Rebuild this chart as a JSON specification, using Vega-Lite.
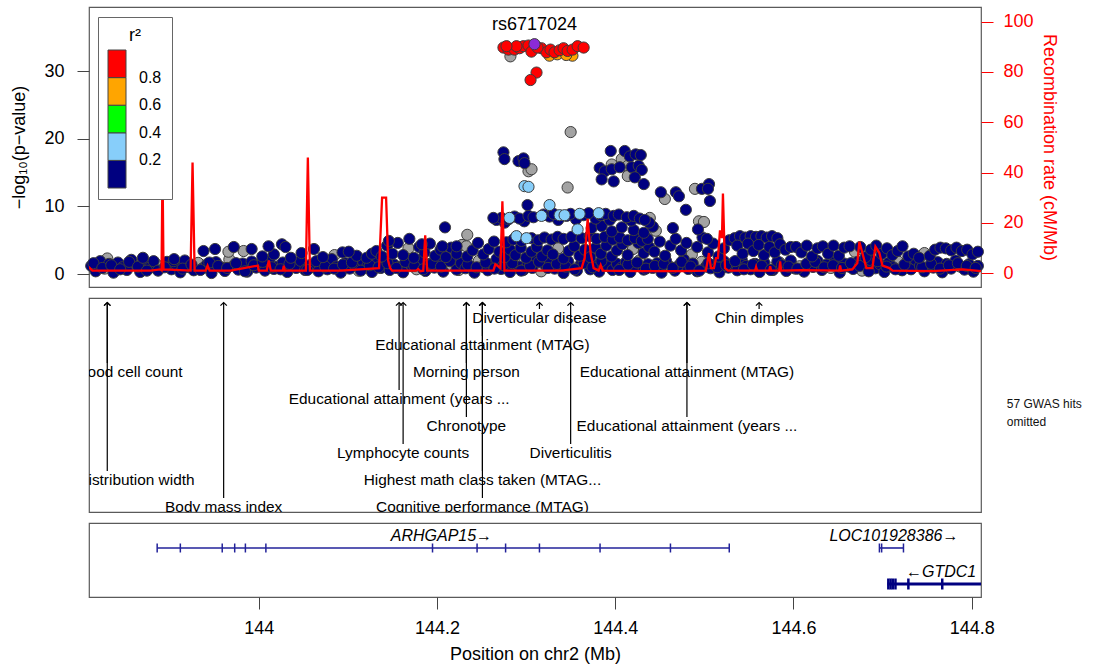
{
"$schema": "https://vega.github.io/schema/vega-lite/v6.json",
"padding": {"left": 10, "top": 6, "right": 5, "bottom": 0},
"spacing": 9,
"config": {
  "font": "Liberation Sans",
  "view": {"stroke": "#5a5a5a", "strokeWidth": 1.2},
  "axis": {"grid": false, "domain": false, "tickColor": "#444", "tickWidth": 1, "labelFontSize": 18, "titleFontSize": 18, "titleFontWeight": "normal", "labelColor": "#000", "titleColor": "#000", "labelFont": "Liberation Sans", "titleFont": "Liberation Sans"}
},
"datasets": {
"snps": [
{"p":143.812,"l":1.2,"r":0.1},{"p":143.817,"l":0.4,"r":0.1},{"p":143.822,"l":1.9,"r":0.1},{"p":143.827,"l":0.8},{"p":143.832,"l":1.5,"r":0.1},{"p":143.837,"l":0.2,"r":0.1},{"p":143.842,"l":1.7,"r":0.1},{"p":143.847,"l":1.0,"r":0.1},{"p":143.852,"l":0.6,"r":0.1},{"p":143.857,"l":2.1,"r":0.1},
{"p":143.862,"l":1.3},{"p":143.867,"l":0.3,"r":0.1},{"p":143.872,"l":1.6,"r":0.1},{"p":143.877,"l":0.9,"r":0.1},{"p":143.882,"l":1.9,"r":0.1},{"p":143.887,"l":0.5,"r":0.1},{"p":143.892,"l":1.1},{"p":143.897,"l":1.8,"r":0.1},{"p":143.902,"l":0.7,"r":0.1},{"p":143.907,"l":1.4,"r":0.1},
{"p":143.912,"l":0.25,"r":0.1},{"p":143.917,"l":2.0,"r":0.1},{"p":143.922,"l":1.0,"r":0.1},{"p":143.927,"l":0.55,"r":0.1},{"p":143.932,"l":1.65},{"p":143.937,"l":0.85,"r":0.1},{"p":143.942,"l":1.45,"r":0.1},{"p":143.947,"l":0.15,"r":0.1},{"p":143.952,"l":1.75,"r":0.1},{"p":143.957,"l":1.05,"r":0.1},
{"p":143.962,"l":0.45,"r":0.1},{"p":143.967,"l":2.15},{"p":143.972,"l":1.25,"r":0.1},{"p":143.977,"l":0.65,"r":0.1},{"p":143.982,"l":1.55,"r":0.1},{"p":143.987,"l":0.35,"r":0.1},{"p":143.992,"l":1.85,"r":0.1},{"p":143.997,"l":0.95,"r":0.1},{"p":144.002,"l":1.35},{"p":144.007,"l":0.5,"r":0.1},
{"p":144.012,"l":2.05,"r":0.1},{"p":144.017,"l":0.75,"r":0.1},{"p":144.022,"l":1.15,"r":0.1},{"p":144.027,"l":1.7,"r":0.1},{"p":144.032,"l":0.3,"r":0.1},{"p":144.037,"l":1.5},{"p":144.042,"l":0.9,"r":0.1},{"p":144.047,"l":1.95,"r":0.1},{"p":144.052,"l":0.6,"r":0.1},{"p":144.057,"l":1.3,"r":0.1},
{"p":144.062,"l":1.0,"r":0.1},{"p":144.067,"l":0.4,"r":0.1},{"p":144.072,"l":1.8},{"p":144.077,"l":0.7,"r":0.1},{"p":144.082,"l":2.2,"r":0.1},{"p":144.087,"l":1.1,"r":0.1},{"p":144.092,"l":0.2,"r":0.1},{"p":144.097,"l":1.6,"r":0.1},{"p":144.102,"l":0.8,"r":0.1},{"p":144.107,"l":1.4,"r":0.1},
{"p":144.112,"l":0.5},{"p":144.117,"l":1.9,"r":0.1},{"p":144.122,"l":1.2,"r":0.1},{"p":144.127,"l":0.3,"r":0.1},{"p":144.132,"l":1.7,"r":0.1},{"p":144.137,"l":0.9,"r":0.1},{"p":144.142,"l":2.3},{"p":144.147,"l":0.6,"r":0.1},{"p":144.152,"l":1.4,"r":0.1},{"p":144.157,"l":1.0,"r":0.1},
{"p":144.162,"l":0.25,"r":0.1},{"p":144.167,"l":1.85,"r":0.1},{"p":144.172,"l":1.15,"r":0.1},{"p":144.177,"l":0.7},{"p":144.182,"l":2.1,"r":0.1},{"p":144.187,"l":0.45,"r":0.1},{"p":144.192,"l":1.5,"r":0.1},{"p":144.197,"l":0.95,"r":0.1},{"p":144.202,"l":1.75,"r":0.1},{"p":144.207,"l":0.35,"r":0.1},
{"p":144.212,"l":1.3},{"p":144.217,"l":2.0,"r":0.1},{"p":144.222,"l":0.65,"r":0.1},{"p":144.227,"l":1.6,"r":0.1},{"p":144.232,"l":0.85,"r":0.1},{"p":144.237,"l":1.2,"r":0.1},{"p":144.242,"l":0.2,"r":0.1},{"p":144.247,"l":1.95},{"p":144.252,"l":1.05,"r":0.1},{"p":144.257,"l":0.55,"r":0.1},
{"p":144.262,"l":1.45,"r":0.1},{"p":144.267,"l":2.25,"r":0.1},{"p":144.272,"l":0.75,"r":0.1},{"p":144.277,"l":1.35,"r":0.1},{"p":144.282,"l":0.3,"r":0.1},{"p":144.287,"l":1.8},{"p":144.292,"l":1.1,"r":0.1},{"p":144.297,"l":0.6,"r":0.1},{"p":144.302,"l":1.55,"r":0.1},{"p":144.307,"l":0.9,"r":0.1},
{"p":144.312,"l":2.05,"r":0.1},{"p":144.317,"l":0.4},{"p":144.322,"l":1.25,"r":0.1},{"p":144.327,"l":1.7,"r":0.1},{"p":144.332,"l":0.8,"r":0.1},{"p":144.337,"l":1.4,"r":0.1},{"p":144.342,"l":0.15,"r":0.1},{"p":144.347,"l":1.9,"r":0.1},{"p":144.352,"l":1.0},{"p":144.357,"l":0.5,"r":0.1},
{"p":144.362,"l":1.65,"r":0.1},{"p":144.367,"l":2.2,"r":0.1},{"p":144.372,"l":0.7,"r":0.1},{"p":144.377,"l":1.3,"r":0.1},{"p":144.382,"l":0.35,"r":0.1},{"p":144.387,"l":1.85},{"p":144.392,"l":1.15,"r":0.1},{"p":144.397,"l":0.6,"r":0.1},{"p":144.402,"l":1.5,"r":0.1},{"p":144.407,"l":0.95,"r":0.1},
{"p":144.412,"l":1.75,"r":0.1},{"p":144.417,"l":0.3,"r":0.1},{"p":144.422,"l":1.2,"r":0.1},{"p":144.427,"l":2.0},{"p":144.432,"l":0.65,"r":0.1},{"p":144.437,"l":1.45,"r":0.1},{"p":144.442,"l":0.9,"r":0.1},{"p":144.447,"l":1.6,"r":0.1},{"p":144.452,"l":0.2,"r":0.1},{"p":144.457,"l":1.95,"r":0.1},
{"p":144.462,"l":1.05},{"p":144.467,"l":0.5,"r":0.1},{"p":144.472,"l":1.35,"r":0.1},{"p":144.477,"l":2.15,"r":0.1},{"p":144.482,"l":0.75,"r":0.1},{"p":144.487,"l":1.55,"r":0.1},{"p":144.492,"l":0.4,"r":0.1},{"p":144.497,"l":1.8},{"p":144.502,"l":1.1,"r":0.1},{"p":144.507,"l":0.85,"r":0.1},
{"p":144.512,"l":1.4,"r":0.1},{"p":144.517,"l":0.25,"r":0.1},{"p":144.522,"l":1.9,"r":0.1},{"p":144.527,"l":0.95,"r":0.1},{"p":144.532,"l":1.6},{"p":144.537,"l":0.55,"r":0.1},{"p":144.542,"l":2.1,"r":0.1},{"p":144.547,"l":1.2,"r":0.1},{"p":144.552,"l":0.7,"r":0.1},{"p":144.557,"l":1.5,"r":0.1},
{"p":144.562,"l":0.3,"r":0.1},{"p":144.567,"l":1.75,"r":0.1},{"p":144.572,"l":1.0},{"p":144.577,"l":0.6,"r":0.1},{"p":144.582,"l":1.85,"r":0.1},{"p":144.587,"l":1.3,"r":0.1},{"p":144.592,"l":0.45,"r":0.1},{"p":144.597,"l":2.0,"r":0.1},{"p":144.602,"l":0.8,"r":0.1},{"p":144.607,"l":1.15},
{"p":144.612,"l":0.35,"r":0.1},{"p":144.617,"l":1.7,"r":0.1},{"p":144.622,"l":1.05,"r":0.1},{"p":144.627,"l":1.95,"r":0.1},{"p":144.632,"l":0.6,"r":0.1},{"p":144.637,"l":1.4,"r":0.1},{"p":144.642,"l":0.9},{"p":144.647,"l":2.2,"r":0.1},{"p":144.652,"l":0.2,"r":0.1},{"p":144.657,"l":1.55,"r":0.1},
{"p":144.662,"l":1.1,"r":0.1},{"p":144.667,"l":0.75,"r":0.1},{"p":144.672,"l":1.8,"r":0.1},{"p":144.677,"l":0.5},{"p":144.682,"l":1.25,"r":0.1},{"p":144.687,"l":2.05,"r":0.1},{"p":144.692,"l":0.85,"r":0.1},{"p":144.697,"l":1.45,"r":0.1},{"p":144.702,"l":0.3,"r":0.1},{"p":144.707,"l":1.65,"r":0.1},
{"p":144.712,"l":1.0,"r":0.1},{"p":144.717,"l":1.9},{"p":144.722,"l":0.55,"r":0.1},{"p":144.727,"l":1.35,"r":0.1},{"p":144.732,"l":0.7,"r":0.1},{"p":144.737,"l":2.1,"r":0.1},{"p":144.742,"l":1.2,"r":0.1},{"p":144.747,"l":0.4,"r":0.1},{"p":144.752,"l":1.6},{"p":144.757,"l":0.95,"r":0.1},
{"p":144.762,"l":1.75,"r":0.1},{"p":144.767,"l":0.25,"r":0.1},{"p":144.772,"l":1.5,"r":0.1},{"p":144.777,"l":0.8,"r":0.1},{"p":144.782,"l":2.0,"r":0.1},{"p":144.787,"l":1.1},{"p":144.792,"l":0.65,"r":0.1},{"p":144.797,"l":1.45,"r":0.1},{"p":144.802,"l":0.35,"r":0.1},{"p":144.807,"l":1.2,"r":0.1},
{"p":143.8145,"l":1.6,"r":0.1},{"p":143.8245,"l":0.9,"r":0.1},{"p":143.8345,"l":1.3,"r":0.1},{"p":143.8445,"l":0.7,"r":0.1},{"p":143.8545,"l":1.8,"r":0.1},{"p":143.8645,"l":1.1,"r":0.1},{"p":143.8745,"l":0.5,"r":0.1},{"p":143.8845,"l":1.5},{"p":143.8945,"l":1.0,"r":0.1},{"p":143.9045,"l":1.9,"r":0.1},
{"p":143.9145,"l":0.8,"r":0.1},{"p":143.9245,"l":1.4,"r":0.1},{"p":143.9345,"l":0.6,"r":0.1},{"p":143.9445,"l":1.7,"r":0.1},{"p":143.9545,"l":1.2,"r":0.1},{"p":143.9645,"l":0.9,"r":0.1},{"p":143.9745,"l":1.6,"r":0.1},{"p":143.9845,"l":0.4,"r":0.1},{"p":143.9945,"l":1.3,"r":0.1},{"p":144.0045,"l":1.8,"r":0.1},
{"p":144.0145,"l":1.0,"r":0.1},{"p":144.0245,"l":0.7,"r":0.1},{"p":144.0345,"l":1.5,"r":0.1},{"p":144.0445,"l":1.2},{"p":144.0545,"l":0.6,"r":0.1},{"p":144.0645,"l":1.9,"r":0.1},{"p":144.0745,"l":1.1,"r":0.1},{"p":144.0845,"l":0.8,"r":0.1},{"p":144.0945,"l":1.4,"r":0.1},{"p":144.1045,"l":1.7,"r":0.1},
{"p":144.1145,"l":0.5,"r":0.1},{"p":144.1245,"l":1.3,"r":0.1},{"p":144.1345,"l":1.0,"r":0.1},{"p":144.1445,"l":1.6,"r":0.1},{"p":144.1545,"l":0.9,"r":0.1},{"p":144.1645,"l":1.8,"r":0.1},{"p":144.1745,"l":1.2,"r":0.1},{"p":144.1845,"l":0.7,"r":0.1},{"p":144.1945,"l":1.5,"r":0.1},{"p":144.2045,"l":1.1,"r":0.1},
{"p":144.2145,"l":1.9,"r":0.1},{"p":144.2245,"l":0.6},{"p":144.2345,"l":1.4,"r":0.1},{"p":144.2445,"l":1.0,"r":0.1},{"p":144.2545,"l":1.7,"r":0.1},{"p":144.2645,"l":0.8,"r":0.1},{"p":144.2745,"l":1.3,"r":0.1},{"p":144.2845,"l":1.6,"r":0.1},{"p":144.2945,"l":0.5,"r":0.1},{"p":144.3045,"l":1.2,"r":0.1},
{"p":144.3145,"l":1.8,"r":0.1},{"p":144.3245,"l":0.9,"r":0.1},{"p":144.3345,"l":1.5,"r":0.1},{"p":144.3445,"l":1.1,"r":0.1},{"p":144.3545,"l":0.7,"r":0.1},{"p":144.3645,"l":1.6,"r":0.1},{"p":144.3745,"l":1.0,"r":0.1},{"p":144.3845,"l":1.9,"r":0.1},{"p":144.3945,"l":1.3},{"p":144.4045,"l":0.6,"r":0.1},
{"p":144.4145,"l":1.4,"r":0.1},{"p":144.4245,"l":1.7,"r":0.1},{"p":144.4345,"l":0.8,"r":0.1},{"p":144.4445,"l":1.2,"r":0.1},{"p":144.4545,"l":1.5,"r":0.1},{"p":144.4645,"l":0.9,"r":0.1},{"p":144.4745,"l":1.8,"r":0.1},{"p":144.4845,"l":1.1,"r":0.1},{"p":144.4945,"l":0.5,"r":0.1},{"p":144.5045,"l":1.6,"r":0.1},
{"p":144.5145,"l":1.0,"r":0.1},{"p":144.5245,"l":1.3,"r":0.1},{"p":144.5345,"l":1.9,"r":0.1},{"p":144.5445,"l":0.7,"r":0.1},{"p":144.5545,"l":1.4,"r":0.1},{"p":144.5645,"l":1.2,"r":0.1},{"p":144.5745,"l":0.6,"r":0.1},{"p":144.5845,"l":1.7},{"p":144.5945,"l":1.1,"r":0.1},{"p":144.6045,"l":0.8,"r":0.1},
{"p":144.6145,"l":1.5,"r":0.1},{"p":144.6245,"l":1.8,"r":0.1},{"p":144.6345,"l":1.0,"r":0.1},{"p":144.6445,"l":1.3,"r":0.1},{"p":144.6545,"l":0.9,"r":0.1},{"p":144.6645,"l":1.6,"r":0.1},{"p":144.6745,"l":1.2,"r":0.1},{"p":144.6845,"l":0.4,"r":0.1},{"p":144.6945,"l":1.9,"r":0.1},{"p":144.7045,"l":1.1,"r":0.1},
{"p":144.7145,"l":0.7,"r":0.1},{"p":144.7245,"l":1.4,"r":0.1},{"p":144.7345,"l":1.7},{"p":144.7445,"l":1.0,"r":0.1},{"p":144.7545,"l":1.5,"r":0.1},{"p":144.7645,"l":0.8,"r":0.1},{"p":144.7745,"l":1.3,"r":0.1},{"p":144.7845,"l":1.6,"r":0.1},{"p":144.7945,"l":1.2,"r":0.1},{"p":144.8045,"l":0.9,"r":0.1},
{"p":143.83,"l":2.3},{"p":143.87,"l":2.4,"r":0.1},{"p":143.905,"l":2.2,"r":0.1},
{"p":144.004,"l":2.6,"r":0.1},{"p":144.017,"l":2.9,"r":0.1},{"p":144.036,"l":2.4,"r":0.1},{"p":144.048,"l":3.1,"r":0.1},{"p":144.072,"l":2.5,"r":0.1},{"p":144.085,"l":2.8},{"p":144.094,"l":3.2,"r":0.1},{"p":144.11,"l":2.7,"r":0.1},{"p":144.121,"l":2.4,"r":0.1},
{"p":143.938,"l":3.4,"r":0.1},{"p":143.951,"l":3.7,"r":0.1},{"p":143.966,"l":3.3},{"p":143.972,"l":4.0,"r":0.1},{"p":143.983,"l":3.4},{"p":143.992,"l":3.7,"r":0.1},{"p":144.011,"l":4.1,"r":0.1},{"p":144.026,"l":4.4,"r":0.1},{"p":144.03,"l":4.0,"r":0.1},{"p":144.062,"l":3.7,"r":0.1},{"p":144.101,"l":3.3,"r":0.1},{"p":144.127,"l":3.0,"r":0.1},
{"p":144.132,"l":3.4,"r":0.1},{"p":144.138,"l":2.6,"r":0.1},{"p":144.144,"l":4.2,"r":0.1},{"p":144.15,"l":3.0,"r":0.1},{"p":144.156,"l":4.6,"r":0.1},{"p":144.162,"l":2.8,"r":0.1},{"p":144.168,"l":3.8},{"p":144.174,"l":2.4,"r":0.1},{"p":144.18,"l":4.0,"r":0.1},{"p":144.186,"l":3.2,"r":0.1},{"p":144.192,"l":4.5,"r":0.1},{"p":144.198,"l":2.7,"r":0.1},{"p":144.204,"l":3.6,"r":0.1},{"p":144.21,"l":2.5,"r":0.1},{"p":144.216,"l":3.9,"r":0.1},{"p":144.222,"l":3.0,"r":0.1},{"p":144.228,"l":4.3},{"p":144.234,"l":2.6,"r":0.1},{"p":144.24,"l":3.5,"r":0.1},{"p":144.246,"l":4.6,"r":0.1},{"p":144.252,"l":2.9,"r":0.1},{"p":144.258,"l":3.7,"r":0.1},{"p":144.264,"l":4.8,"r":0.1},{"p":144.27,"l":3.3,"r":0.1},
{"p":144.146,"l":4.9,"r":0.1},{"p":144.169,"l":5.2,"r":0.1},{"p":144.183,"l":4.4,"r":0.1},{"p":144.206,"l":4.1,"r":0.1},{"p":144.222,"l":4.1,"r":0.1},{"p":144.233,"l":4.1},{"p":144.209,"l":6.9,"r":0.1},{"p":144.234,"l":5.8},
{"p":144.276,"l":2.5,"r":0.1},{"p":144.282,"l":3.6,"r":0.1},{"p":144.288,"l":2.8,"r":0.1},{"p":144.294,"l":3.9,"r":0.1},{"p":144.3,"l":2.4,"r":0.1},{"p":144.306,"l":3.3,"r":0.1},{"p":144.312,"l":4.0,"r":0.1},{"p":144.318,"l":2.6,"r":0.1},{"p":144.324,"l":3.5,"r":0.1},{"p":144.33,"l":2.9,"r":0.1},{"p":144.336,"l":3.8},{"p":144.342,"l":2.3,"r":0.1},{"p":144.348,"l":3.4,"r":0.1},{"p":144.354,"l":4.1,"r":0.1},{"p":144.36,"l":2.7,"r":0.1},{"p":144.366,"l":3.6,"r":0.1},{"p":144.372,"l":2.5,"r":0.1},{"p":144.378,"l":3.9,"r":0.1},{"p":144.384,"l":3.0,"r":0.1},{"p":144.39,"l":4.2,"r":0.1},{"p":144.396,"l":2.6,"r":0.1},{"p":144.402,"l":3.5,"r":0.1},{"p":144.408,"l":4.4,"r":0.1},{"p":144.414,"l":2.8,"r":0.1},{"p":144.42,"l":3.7},{"p":144.426,"l":4.6,"r":0.1},{"p":144.432,"l":3.1,"r":0.1},{"p":144.438,"l":4.0,"r":0.1},
{"p":144.444,"l":3.3,"r":0.1},{"p":144.45,"l":4.8,"r":0.1},{"p":144.456,"l":2.7,"r":0.1},{"p":144.462,"l":4.2,"r":0.1},{"p":144.468,"l":5.2,"r":0.1},{"p":144.474,"l":3.5,"r":0.1},{"p":144.48,"l":4.6,"r":0.1},{"p":144.486,"l":2.9},{"p":144.492,"l":4.0,"r":0.1},{"p":144.498,"l":5.4,"r":0.1},{"p":144.504,"l":3.2,"r":0.1},{"p":144.51,"l":4.5,"r":0.1},{"p":144.516,"l":2.6,"r":0.1},{"p":144.522,"l":3.8,"r":0.1},{"p":144.528,"l":5.0,"r":0.1},
{"p":144.534,"l":5.3,"r":0.1},{"p":144.54,"l":5.6,"r":0.1},{"p":144.546,"l":5.4,"r":0.1},{"p":144.552,"l":5.6,"r":0.1},{"p":144.558,"l":5.5,"r":0.1},{"p":144.564,"l":5.6,"r":0.1},{"p":144.57,"l":5.4,"r":0.1},{"p":144.576,"l":5.6,"r":0.1},{"p":144.582,"l":5.3,"r":0.1},
{"p":144.537,"l":4.2,"r":0.1},{"p":144.543,"l":3.0,"r":0.1},{"p":144.549,"l":4.5,"r":0.1},{"p":144.555,"l":3.4,"r":0.1},{"p":144.561,"l":4.3,"r":0.1},{"p":144.567,"l":2.8,"r":0.1},{"p":144.573,"l":4.0,"r":0.1},{"p":144.579,"l":3.2,"r":0.1},{"p":144.585,"l":4.4,"r":0.1},{"p":144.591,"l":3.6,"r":0.1},{"p":144.597,"l":4.0,"r":0.1},
{"p":144.603,"l":4.0,"r":0.1},{"p":144.609,"l":3.2,"r":0.1},{"p":144.615,"l":4.2,"r":0.1},{"p":144.621,"l":2.6,"r":0.1},{"p":144.627,"l":3.8,"r":0.1},{"p":144.633,"l":4.1,"r":0.1},{"p":144.639,"l":3.0,"r":0.1},{"p":144.645,"l":4.2,"r":0.1},{"p":144.651,"l":2.7,"r":0.1},{"p":144.657,"l":3.9,"r":0.1},{"p":144.663,"l":4.1,"r":0.1},{"p":144.669,"l":3.3},{"p":144.675,"l":4.0,"r":0.1},{"p":144.681,"l":2.5,"r":0.1},{"p":144.687,"l":3.6,"r":0.1},{"p":144.693,"l":4.2,"r":0.1},{"p":144.699,"l":3.0,"r":0.1},{"p":144.705,"l":3.8,"r":0.1},{"p":144.711,"l":2.8,"r":0.1},{"p":144.717,"l":3.4,"r":0.1},{"p":144.7224,"l":4.1,"r":0.1},{"p":144.729,"l":2.6,"r":0.1},{"p":144.735,"l":3.0,"r":0.1},{"p":144.741,"l":2.4,"r":0.1},{"p":144.747,"l":3.1},{"p":144.753,"l":2.7,"r":0.1},{"p":144.759,"l":3.6,"r":0.1},{"p":144.765,"l":3.9,"r":0.1},{"p":144.771,"l":3.8,"r":0.1},{"p":144.777,"l":3.5,"r":0.1},{"p":144.783,"l":3.9,"r":0.1},{"p":144.789,"l":3.4,"r":0.1},{"p":144.795,"l":3.6,"r":0.1},{"p":144.801,"l":2.9,"r":0.1},{"p":144.807,"l":3.3,"r":0.1},
{"p":144.2779,"l":4.7,"r":0.1},{"p":144.2858,"l":5.1,"r":0.1},{"p":144.2948,"l":4.9,"r":0.1},{"p":144.3061,"l":5.3,"r":0.1},{"p":144.314,"l":5.0,"r":0.1},{"p":144.3207,"l":5.4,"r":0.1},{"p":144.3286,"l":5.1,"r":0.1},{"p":144.3353,"l":5.5,"r":0.1},{"p":144.342,"l":5.2,"r":0.1},{"p":144.351,"l":5.5,"r":0.1},{"p":144.3623,"l":5.3,"r":0.1},{"p":144.3713,"l":5.6,"r":0.1},{"p":144.3792,"l":5.2,"r":0.1},{"p":144.3882,"l":5.5,"r":0.1},{"p":144.3972,"l":5.1,"r":0.1},{"p":144.4051,"l":5.4,"r":0.1},{"p":144.4141,"l":5.0,"r":0.1},{"p":144.422,"l":5.3,"r":0.1},{"p":144.4298,"l":4.9,"r":0.1},{"p":144.4366,"l":5.2,"r":0.1},
{"p":144.3736,"l":6.8,"r":0.1},{"p":144.3848,"l":7.1,"r":0.1},{"p":144.3961,"l":6.3,"r":0.1},{"p":144.4073,"l":6.9,"r":0.1},{"p":144.4208,"l":6.5,"r":0.1},{"p":144.4321,"l":6.1,"r":0.1},{"p":144.4422,"l":7.0,"r":0.1},
{"p":144.276,"l":7.6,"r":0.1},{"p":144.298,"l":7.8,"r":0.1},{"p":144.336,"l":8.0,"r":0.1},{"p":144.356,"l":8.1,"r":0.1},{"p":144.378,"l":8.2,"r":0.1},{"p":144.394,"l":8.0,"r":0.1},{"p":144.418,"l":7.9,"r":0.1},{"p":144.438,"l":7.6,"r":0.1},
{"p":144.2667,"l":8.0,"r":0.1},{"p":144.2723,"l":8.3,"r":0.1},{"p":144.2802,"l":8.1,"r":0.1},{"p":144.287,"l":8.5,"r":0.1},{"p":144.2926,"l":8.2,"r":0.1},{"p":144.3027,"l":8.6,"r":0.1},{"p":144.3083,"l":8.4,"r":0.1},{"p":144.3196,"l":8.8,"r":0.1},{"p":144.3263,"l":8.5,"r":0.1},{"p":144.3308,"l":8.9,"r":0.1},{"p":144.3454,"l":8.6,"r":0.1},{"p":144.3499,"l":8.9,"r":0.1},{"p":144.3645,"l":8.7,"r":0.1},{"p":144.3702,"l":9.0,"r":0.1},{"p":144.3837,"l":8.7,"r":0.1},{"p":144.3893,"l":8.9,"r":0.1},{"p":144.3983,"l":8.6,"r":0.1},{"p":144.404,"l":8.8,"r":0.1},{"p":144.413,"l":8.4,"r":0.1},{"p":144.4208,"l":8.6,"r":0.1},{"p":144.4276,"l":8.2,"r":0.1},{"p":144.4332,"l":8.0,"r":0.1},
{"p":144.2746,"l":18.0,"r":0.1},{"p":144.2757,"l":17.0,"r":0.1},{"p":144.2915,"l":16.7,"r":0.1},{"p":144.2971,"l":17.1,"r":0.1},{"p":144.2982,"l":16.4,"r":0.1},{"p":144.395,"l":18.2,"r":0.1},{"p":144.4107,"l":18.2,"r":0.1},{"p":144.4164,"l":17.4,"r":0.1},{"p":144.423,"l":17.7,"r":0.1},{"p":144.4287,"l":17.6,"r":0.1},{"p":144.3826,"l":15.7,"r":0.1},{"p":144.3882,"l":15.2,"r":0.1},{"p":144.3961,"l":15.5,"r":0.1},{"p":144.4051,"l":15.8,"r":0.1},{"p":144.4186,"l":15.8,"r":0.1},{"p":144.4264,"l":16.0,"r":0.1},{"p":144.4298,"l":15.4,"r":0.1},{"p":144.3848,"l":14.0,"r":0.1},{"p":144.3983,"l":13.7,"r":0.1},{"p":144.422,"l":14.3,"r":0.1},{"p":144.4321,"l":13.3,"r":0.1},{"p":144.4512,"l":12.1,"r":0.1},{"p":144.4681,"l":12.1,"r":0.1},{"p":144.4715,"l":11.5,"r":0.1},{"p":144.4973,"l":12.6,"r":0.1},{"p":144.5053,"l":13.3,"r":0.1},{"p":144.5041,"l":12.6,"r":0.1},{"p":144.5063,"l":10.8,"r":0.1},{"p":144.4793,"l":9.5,"r":0.1},{"p":144.4647,"l":6.8,"r":0.1},{"p":144.4929,"l":6.6,"r":0.1},{"p":144.503,"l":5.2,"r":0.1},{"p":144.2633,"l":8.3,"r":0.1},{"p":144.3016,"l":10.2,"r":0.1},
{"p":144.3027,"l":15.2},{"p":144.3061,"l":15.5},{"p":144.3466,"l":12.8},{"p":144.35,"l":21.0},{"p":144.3961,"l":16.2},{"p":144.4073,"l":17.0},{"p":144.4141,"l":16.0},{"p":144.4141,"l":14.5},{"p":144.4557,"l":11.1},{"p":144.4895,"l":12.6},{"p":144.4388,"l":8.3},{"p":144.4456,"l":6.4},{"p":144.494,"l":7.8},{"p":144.4996,"l":7.7},{"p":144.2824,"l":32.2},
{"p":144.2982,"l":13.0,"r":0.3},{"p":144.3027,"l":12.9,"r":0.3},{"p":144.2813,"l":8.3,"r":0.3},{"p":144.3263,"l":10.2,"r":0.3},{"p":144.3173,"l":8.6,"r":0.3},{"p":144.3376,"l":8.7,"r":0.3},{"p":144.3432,"l":8.7,"r":0.3},{"p":144.3601,"l":8.9,"r":0.3},{"p":144.3815,"l":9.0,"r":0.3},{"p":144.3578,"l":6.6,"r":0.3},{"p":144.2892,"l":5.6,"r":0.3},{"p":144.3004,"l":5.3,"r":0.3},
{"p":144.3263,"l":32.3,"r":0.7},{"p":144.335,"l":32.5,"r":0.7},{"p":144.352,"l":32.3,"r":0.7},{"p":144.345,"l":32.4,"r":0.7},
{"p":144.2746,"l":33.5,"r":0.9},{"p":144.2802,"l":33.2,"r":0.9},{"p":144.287,"l":33.2,"r":0.9},{"p":144.2926,"l":33.4,"r":0.9},{"p":144.297,"l":33.7,"r":0.9},{"p":144.3027,"l":33.8,"r":0.9},{"p":144.306,"l":32.9,"r":0.9},{"p":144.3173,"l":33.4,"r":0.9},{"p":144.3229,"l":32.8,"r":0.9},{"p":144.3274,"l":33.2,"r":0.9},{"p":144.3319,"l":32.8,"r":0.9},{"p":144.3376,"l":33.1,"r":0.9},{"p":144.342,"l":33.4,"r":0.9},{"p":144.3466,"l":33.0,"r":0.9},{"p":144.3522,"l":33.2,"r":0.9},{"p":144.3578,"l":33.7,"r":0.9},{"p":144.3646,"l":33.5,"r":0.9},{"p":144.3128,"l":33.5,"r":0.9},{"p":144.2892,"l":33.7,"r":0.9},{"p":144.278,"l":33.7,"r":0.9},{"p":144.3117,"l":29.8,"r":0.9},{"p":144.305,"l":28.7,"r":0.9}
],
"lead": [{"p":144.3094,"l":34.0,"name":"rs6717024"}],
"recomb": [
{"p":143.809,"rr":2.5},{"p":143.8132,"rr":1.0},{"p":143.8785,"rr":1.0},{"p":143.8897,"rr":1.5},{"p":143.8909,"rr":1.2},{"p":143.892,"rr":42},{"p":143.8931,"rr":1.5},{"p":143.9235,"rr":1.0},{"p":143.9257,"rr":44},{"p":143.928,"rr":1.0},{"p":143.9404,"rr":1.0},{"p":143.9426,"rr":3.0},{"p":143.9449,"rr":1.0},{"p":143.9685,"rr":1.0},{"p":143.9989,"rr":3.0},{"p":144.0,"rr":1.0},{"p":144.009,"rr":1.0},{"p":144.0113,"rr":5.0},{"p":144.0135,"rr":1.0},{"p":144.027,"rr":1.0},{"p":144.0281,"rr":3.0},{"p":144.0293,"rr":1.0},{"p":144.0473,"rr":1.0},{"p":144.0529,"rr":1.0},{"p":144.0551,"rr":46},{"p":144.0574,"rr":1.0},{"p":144.0923,"rr":1.0},{"p":144.135,"rr":2.0},{"p":144.1384,"rr":30},{"p":144.1429,"rr":30},{"p":144.1452,"rr":5.0},{"p":144.1474,"rr":2.0},{"p":144.1497,"rr":1.0},{"p":144.1767,"rr":1.0},{"p":144.1789,"rr":1.6},{"p":144.1812,"rr":0.8},{"p":144.1846,"rr":1.0},{"p":144.1868,"rr":15},{"p":144.189,"rr":1.0},{"p":144.2273,"rr":1.0},{"p":144.2633,"rr":1.0},{"p":144.2655,"rr":3.5},{"p":144.2678,"rr":3.0},{"p":144.2712,"rr":2.0},{"p":144.2734,"rr":28.6},{"p":144.2757,"rr":1.0},{"p":144.3061,"rr":1.0},{"p":144.3398,"rr":1.0},{"p":144.3623,"rr":2.0},{"p":144.3657,"rr":6.0},{"p":144.3691,"rr":21.6},{"p":144.3724,"rr":8.0},{"p":144.3758,"rr":2.0},{"p":144.3814,"rr":1.0},{"p":144.3837,"rr":3.2},{"p":144.3859,"rr":1.0},{"p":144.4298,"rr":0.8},{"p":144.4748,"rr":0.8},{"p":144.5018,"rr":1.0},{"p":144.5052,"rr":8.0},{"p":144.5074,"rr":2.0},{"p":144.5108,"rr":2.0},{"p":144.5131,"rr":6.0},{"p":144.5153,"rr":6.0},{"p":144.5176,"rr":17},{"p":144.5198,"rr":14},{"p":144.5209,"rr":31.7},{"p":144.5232,"rr":2.0},{"p":144.5266,"rr":1.0},{"p":144.557,"rr":1.0},{"p":144.5581,"rr":2.4},{"p":144.5592,"rr":1.0},{"p":144.5728,"rr":1.0},{"p":144.5739,"rr":2.7},{"p":144.575,"rr":1.0},{"p":144.584,"rr":1.0},{"p":144.5851,"rr":4.7},{"p":144.5862,"rr":1.0},{"p":144.6099,"rr":1.2},{"p":144.6513,"rr":1.0},{"p":144.6524,"rr":3.1},{"p":144.6535,"rr":1.0},{"p":144.6661,"rr":1.5},{"p":144.6717,"rr":4.0},{"p":144.674,"rr":12.5},{"p":144.6774,"rr":8.0},{"p":144.6819,"rr":2.0},{"p":144.6886,"rr":2.0},{"p":144.692,"rr":10.6},{"p":144.6965,"rr":8.0},{"p":144.6999,"rr":3.0},{"p":144.7078,"rr":2.0},{"p":144.7111,"rr":1.0},{"p":144.7561,"rr":0.8},{"p":144.7899,"rr":1.5},{"p":144.8113,"rr":0.8}
],
"gwas": [
{"pos":143.830,"trait":"White blood cell count","row":3},
{"pos":143.830,"trait":"Red cell distribution width","row":7},
{"pos":143.9606,"trait":"Body mass index","row":8},
{"pos":144.1575,"trait":"Educational attainment (years ...","row":4},
{"pos":144.162,"trait":"Lymphocyte counts","row":6},
{"pos":144.233,"trait":"Morning person","row":3},
{"pos":144.233,"trait":"Chronotype","row":5},
{"pos":144.251,"trait":"Educational attainment (MTAG)","row":2},
{"pos":144.251,"trait":"Highest math class taken (MTAG...","row":7},
{"pos":144.251,"trait":"Cognitive performance (MTAG)","row":8},
{"pos":144.315,"trait":"Diverticular disease","row":1},
{"pos":144.350,"trait":"Diverticulitis","row":6},
{"pos":144.4805,"trait":"Educational attainment (MTAG)","row":3},
{"pos":144.4805,"trait":"Educational attainment (years ...","row":5},
{"pos":144.5615,"trait":"Chin dimples","row":1}
],
"note": [{"pos":144.8395,"row":4.2}],
"genes": [
{"gene":"ARHGAP15→","start":143.886,"end":144.528,"mid":144.205,"track":1},
{"gene":"LOC101928386→","start":144.6965,"end":144.7235,"mid":144.7128,"track":1},
{"gene":"←GTDC1","start":144.7055,"end":144.825,"mid":144.7657,"track":2}
],
"exons": [
{"pos":143.886,"track":1},{"pos":143.912,"track":1},{"pos":143.959,"track":1},{"pos":143.973,"track":1},{"pos":143.985,"track":1},{"pos":144.008,"track":1},{"pos":144.195,"track":1},{"pos":144.245,"track":1},{"pos":144.277,"track":1},{"pos":144.315,"track":1},{"pos":144.383,"track":1},{"pos":144.462,"track":1},{"pos":144.528,"track":1},
{"pos":144.6965,"track":1},{"pos":144.699,"track":1},{"pos":144.7235,"track":1},
{"pos":144.7065,"track":2},{"pos":144.709,"track":2},{"pos":144.7115,"track":2},{"pos":144.7145,"track":2},{"pos":144.729,"track":2},{"pos":144.767,"track":2}
]
},
"vconcat": [
{
  "width": 892, "height": 280,
  "layer": [
    {"layer": [
      {"data": {"name": "snps"}, "transform": [{"filter": "datum.r == null"}],
       "mark": {"type": "point", "shape": "circle", "filled": true, "size": 125, "fill": "#A3A3A3", "stroke": "#3c3c3c", "strokeWidth": 1, "opacity": 1},
       "encoding": {
         "x": {"field": "p", "type": "quantitative", "scale": {"domain": [143.8095, 144.8105], "nice": false, "zero": false}, "axis": null},
         "y": {"field": "l", "type": "quantitative", "scale": {"domain": [-1.92, 39.5], "nice": false, "zero": false},
               "axis": {"values": [0, 10, 20, 30], "title": "−log₁₀(p−value)", "tickSize": 12, "labelPadding": 13, "titlePadding": 15}}
       }},
      {"data": {"name": "snps"}, "transform": [{"filter": "datum.r != null"}],
       "mark": {"type": "point", "shape": "circle", "filled": true, "size": 125, "stroke": "#3c3c3c", "strokeWidth": 1, "opacity": 1},
       "encoding": {
         "x": {"field": "p", "type": "quantitative", "axis": null},
         "y": {"field": "l", "type": "quantitative", "axis": {"values": [0, 10, 20, 30], "title": "−log₁₀(p−value)", "tickSize": 12, "labelPadding": 13, "titlePadding": 15}},
         "color": {"field": "r", "type": "quantitative",
           "scale": {"type": "threshold", "domain": [0.2, 0.4, 0.6, 0.8], "range": ["#000080", "#87CEFA", "#00FF00", "#FFA500", "#FF0000"]},
           "legend": {"type": "gradient", "title": "r²", "orient": "none", "legendX": 9, "legendY": 10, "direction": "vertical",
             "gradientLength": 138, "gradientThickness": 18, "gradientStrokeColor": "#444", "gradientStrokeWidth": 1,
             "labelFontSize": 16, "labelOffset": 13, "labelOverlap": false, "labelColor": "#000",
             "titleFontSize": 18, "titleFontWeight": "normal", "titleAnchor": "middle", "titlePadding": 5, "titleColor": "#000",
             "padding": 10, "strokeColor": "#666", "fillColor": "#ffffff"}}
       }},
      {"data": {"name": "lead"},
       "mark": {"type": "point", "shape": "circle", "filled": true, "size": 125, "fill": "#8B2BD6", "stroke": "#3c3c3c", "strokeWidth": 1, "opacity": 1},
       "encoding": {"x": {"field": "p", "type": "quantitative", "axis": null}, "y": {"field": "l", "type": "quantitative", "axis": {"values": [0, 10, 20, 30], "title": "−log₁₀(p−value)", "tickSize": 12, "labelPadding": 13, "titlePadding": 15}}}},
      {"data": {"name": "lead"},
       "mark": {"type": "text", "fontSize": 18, "dy": -19, "color": "#000"},
       "encoding": {"x": {"field": "p", "type": "quantitative", "axis": null}, "y": {"field": "l", "type": "quantitative", "axis": {"values": [0, 10, 20, 30], "title": "−log₁₀(p−value)", "tickSize": 12, "labelPadding": 13, "titlePadding": 15}}, "text": {"field": "name"}}}
    ]},
    {"data": {"name": "recomb"},
     "mark": {"type": "line", "color": "#FF0000", "strokeWidth": 2.3, "clip": true},
     "encoding": {
       "x": {"field": "p", "type": "quantitative", "axis": null},
       "y": {"field": "rr", "type": "quantitative", "scale": {"domain": [-5.5, 105.8], "nice": false, "zero": false},
             "axis": {"orient": "right", "values": [0, 20, 40, 60, 80, 100], "title": "Recombination rate (cM/Mb)", "tickColor": "#FF0000", "labelColor": "#FF0000", "titleColor": "#FF0000", "tickSize": 12, "labelPadding": 10, "titlePadding": 6}}
     }}
  ],
  "resolve": {"scale": {"y": "independent"}}
},
{
  "width": 892, "height": 214,
  "layer": [
    {"data": {"name": "gwas"},
     "mark": {"type": "rule", "color": "#000", "strokeWidth": 1.2, "yOffset": -9, "clip": true},
     "encoding": {
       "x": {"field": "pos", "type": "quantitative", "scale": {"domain": [143.8095, 144.8105], "nice": false, "zero": false}, "axis": null},
       "y": {"field": "row", "type": "quantitative", "scale": {"domain": [0.259, 8.185], "reverse": true, "nice": false, "zero": false}, "axis": null},
       "y2": {"datum": 0.44}
     }},
    {"data": {"name": "gwas"},
     "mark": {"type": "point", "shape": "M-0.8,0.7L0,-0.1L0.8,0.7", "size": 64, "filled": false, "stroke": "#000", "strokeWidth": 1.2, "opacity": 1, "clip": true},
     "encoding": {
       "x": {"field": "pos", "type": "quantitative", "axis": null},
       "y": {"datum": 0.44, "type": "quantitative", "axis": null}
     }},
    {"data": {"name": "gwas"},
     "mark": {"type": "text", "fontSize": 15.4, "align": "center", "baseline": "middle", "color": "#000", "clip": true},
     "encoding": {
       "x": {"field": "pos", "type": "quantitative", "axis": null},
       "y": {"field": "row", "type": "quantitative", "axis": null},
       "text": {"field": "trait"}
     }},
    {"data": {"name": "note"},
     "mark": {"type": "text", "text": ["57 GWAS hits", "omitted"], "fontSize": 12, "lineHeight": 18, "align": "left", "baseline": "middle", "color": "#111"},
     "encoding": {
       "x": {"field": "pos", "type": "quantitative", "axis": null},
       "y": {"field": "row", "type": "quantitative", "axis": null}
     }}
  ]
},
{
  "width": 892, "height": 74,
  "layer": [
    {"data": {"name": "genes"}, "transform": [{"filter": "datum.track == 1"}],
     "mark": {"type": "rule", "color": "#22229a", "strokeWidth": 1.6, "clip": true},
     "encoding": {
       "x": {"field": "start", "type": "quantitative", "scale": {"domain": [143.8095, 144.8105], "nice": false, "zero": false},
             "axis": {"values": [144, 144.2, 144.4, 144.6, 144.8], "format": "~g", "labelFlush": false, "title": "Position on chr2 (Mb)", "tickSize": 12, "labelPadding": 10, "titlePadding": 8}},
       "x2": {"field": "end"},
       "y": {"field": "track", "type": "quantitative", "scale": {"domain": [0.306, 2.361], "reverse": true, "nice": false, "zero": false}, "axis": null}
     }},
    {"data": {"name": "genes"}, "transform": [{"filter": "datum.track == 2"}],
     "mark": {"type": "rule", "color": "#000080", "strokeWidth": 3, "clip": true},
     "encoding": {
       "x": {"field": "start", "type": "quantitative", "axis": {"values": [144, 144.2, 144.4, 144.6, 144.8], "format": "~g", "labelFlush": false, "title": "Position on chr2 (Mb)", "tickSize": 12, "labelPadding": 10, "titlePadding": 8}},
       "x2": {"field": "end"},
       "y": {"field": "track", "type": "quantitative", "axis": null}
     }},
    {"data": {"name": "exons"}, "transform": [{"filter": "datum.track == 1"}],
     "mark": {"type": "tick", "orient": "vertical", "size": 9, "thickness": 1.5, "color": "#22229a", "opacity": 1, "clip": true},
     "encoding": {
       "x": {"field": "pos", "type": "quantitative", "axis": {"values": [144, 144.2, 144.4, 144.6, 144.8], "format": "~g", "labelFlush": false, "title": "Position on chr2 (Mb)", "tickSize": 12, "labelPadding": 10, "titlePadding": 8}},
       "y": {"field": "track", "type": "quantitative", "axis": null}
     }},
    {"data": {"name": "exons"}, "transform": [{"filter": "datum.track == 2"}],
     "mark": {"type": "tick", "orient": "vertical", "size": 11, "thickness": 2.5, "color": "#000080", "opacity": 1, "clip": true},
     "encoding": {
       "x": {"field": "pos", "type": "quantitative", "axis": {"values": [144, 144.2, 144.4, 144.6, 144.8], "format": "~g", "labelFlush": false, "title": "Position on chr2 (Mb)", "tickSize": 12, "labelPadding": 10, "titlePadding": 8}},
       "y": {"field": "track", "type": "quantitative", "axis": null}
     }},
    {"data": {"name": "genes"},
     "mark": {"type": "text", "fontSize": 16, "fontStyle": "italic", "dy": -12, "color": "#000", "clip": true},
     "encoding": {
       "x": {"field": "mid", "type": "quantitative", "axis": {"values": [144, 144.2, 144.4, 144.6, 144.8], "format": "~g", "labelFlush": false, "title": "Position on chr2 (Mb)", "tickSize": 12, "labelPadding": 10, "titlePadding": 8}},
       "y": {"field": "track", "type": "quantitative", "axis": null},
       "text": {"field": "gene"}
     }}
  ]
}
]
}
